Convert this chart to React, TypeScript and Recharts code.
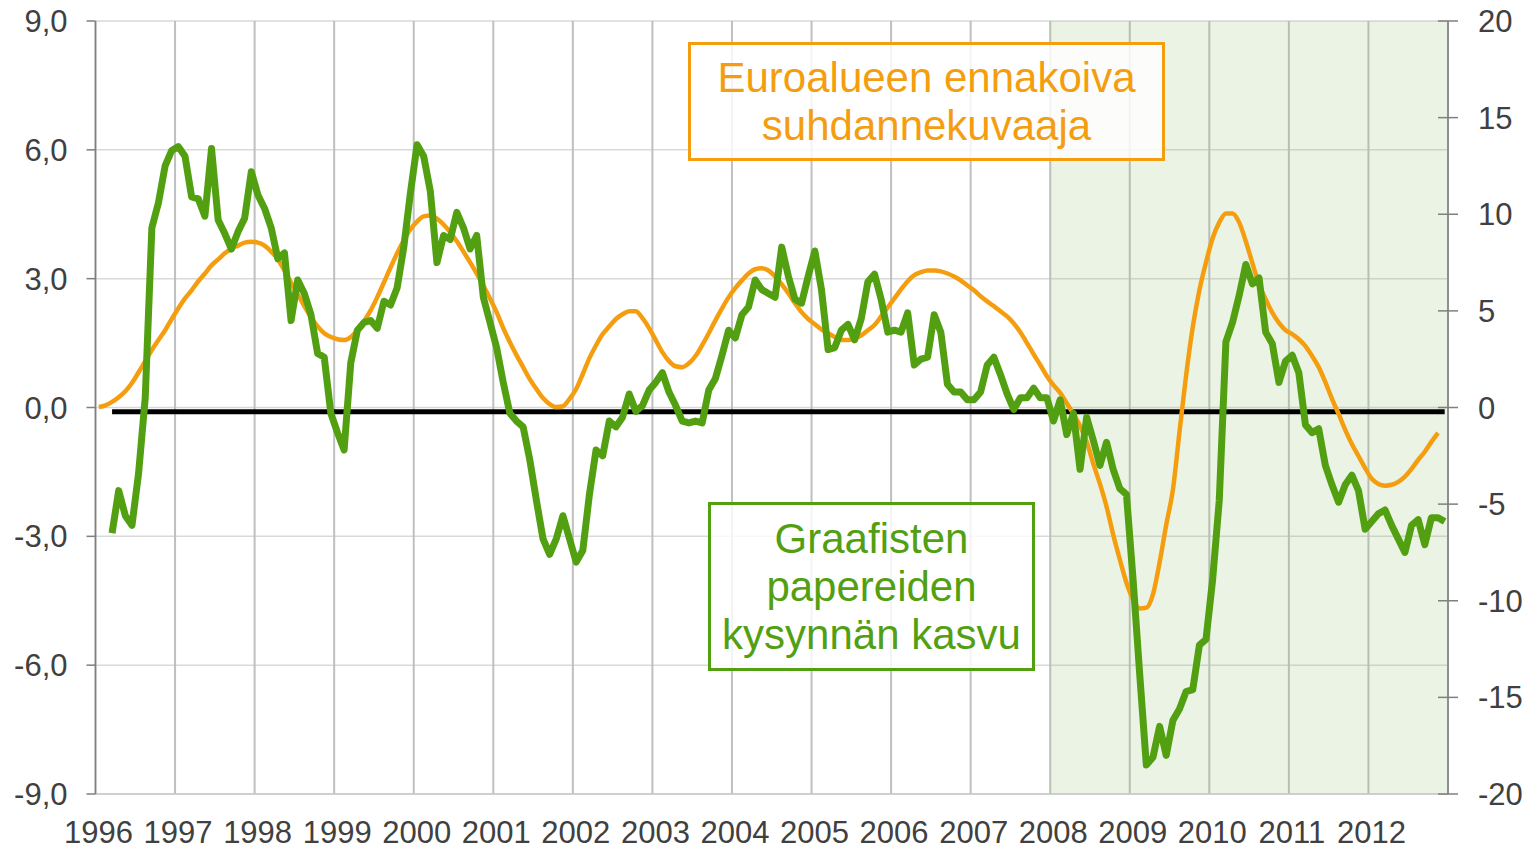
import React from 'react';
import { ComposedChart, Line, XAxis, YAxis, CartesianGrid, ReferenceArea } from 'recharts';

// Euroalueen ennakoiva suhdannekuvaaja (vasen akseli), kuukausittain 1996-2012
const orange1996 = [0.01, 0.05, 0.13, 0.24, 0.38, 0.57, 0.82, 1.08, 1.34, 1.57, 1.8, 2.06];
const orange1997 = [2.31, 2.54, 2.73, 2.94, 3.12, 3.31, 3.45, 3.59, 3.7, 3.77, 3.84, 3.86];
const orange1998 = [3.84, 3.77, 3.63, 3.45, 3.19, 2.91, 2.64, 2.36, 2.1, 1.89, 1.73, 1.64];
const orange1999 = [1.59, 1.57, 1.64, 1.8, 2.01, 2.26, 2.57, 2.91, 3.26, 3.59, 3.89, 4.15];
const orange2000 = [4.33, 4.45, 4.47, 4.4, 4.26, 4.08, 3.87, 3.63, 3.38, 3.12, 2.84, 2.54];
const orange2001 = [2.22, 1.85, 1.52, 1.22, 0.94, 0.66, 0.43, 0.22, 0.08, 0.01, 0.03, 0.2];
const orange2002 = [0.43, 0.78, 1.15, 1.45, 1.71, 1.89, 2.06, 2.17, 2.24, 2.24, 2.08, 1.85];
const orange2003 = [1.57, 1.29, 1.08, 0.96, 0.94, 1.03, 1.2, 1.45, 1.73, 2.03, 2.31, 2.57];
const orange2004 = [2.78, 2.96, 3.12, 3.22, 3.24, 3.19, 3.05, 2.87, 2.66, 2.43, 2.22, 2.06];
const orange2005 = [1.94, 1.82, 1.73, 1.64, 1.57, 1.57, 1.61, 1.68, 1.8, 1.92, 2.12, 2.33];
const orange2006 = [2.54, 2.75, 2.94, 3.08, 3.15, 3.19, 3.19, 3.17, 3.12, 3.05, 2.96, 2.84];
const orange2007 = [2.73, 2.59, 2.47, 2.36, 2.24, 2.12, 1.96, 1.75, 1.5, 1.24, 0.99, 0.73];
const orange2008 = [0.52, 0.34, 0.1, -0.15, -0.43, -0.8, -1.31, -1.78, -2.31, -2.96, -3.54, -4.08];
const orange2009 = [-4.47, -4.68, -4.66, -4.35, -3.61, -2.73, -1.92, -0.57, 0.75, 1.87, 2.73, 3.38];
const orange2010 = [3.94, 4.31, 4.52, 4.52, 4.31, 3.87, 3.36, 2.87, 2.52, 2.21, 1.97, 1.8];
const orange2011 = [1.71, 1.59, 1.43, 1.2, 0.94, 0.59, 0.2, -0.15, -0.52, -0.85, -1.13, -1.41];
const orange2012 = [-1.66, -1.78, -1.82, -1.8, -1.73, -1.61, -1.43, -1.22, -1.03, -0.8, -0.59, null];

// Graafisten papereiden kysynnän kasvu, % (oikea akseli)
const green1996 = [null, null, -6.5, -4.3, -5.6, -6.1, -3.4, 0.5, 9.3, 10.6, 12.5, 13.3];
const green1997 = [13.5, 13.0, 10.9, 10.8, 9.9, 13.4, 9.7, 9.0, 8.2, 9.1, 9.8, 12.2];
const green1998 = [11.0, 10.3, 9.3, 7.7, 8.0, 4.5, 6.6, 5.9, 4.8, 2.8, 2.6, -0.3];
const green1999 = [-1.3, -2.2, 2.3, 4.0, 4.4, 4.5, 4.1, 5.5, 5.3, 6.2, 8.3, 11.1];
const green2000 = [13.6, 13.0, 11.2, 7.5, 8.9, 8.7, 10.1, 9.3, 8.2, 8.9, 5.7, 4.4];
const green2001 = [3.1, 1.3, -0.3, -0.7, -1.0, -2.7, -4.8, -6.8, -7.6, -6.8, -5.6, -6.8];
const green2002 = [-8.0, -7.4, -4.5, -2.2, -2.5, -0.7, -1.0, -0.5, 0.7, -0.2, 0.1, 0.9];
const green2003 = [1.3, 1.8, 0.8, 0.1, -0.7, -0.8, -0.7, -0.8, 0.9, 1.5, 2.7, 4.0];
const green2004 = [3.6, 4.8, 5.2, 6.6, 6.1, 5.9, 5.7, 8.3, 6.8, 5.6, 5.4, 6.8];
const green2005 = [8.1, 6.1, 3.0, 3.1, 4.0, 4.3, 3.5, 4.6, 6.5, 6.9, 5.6, 3.9];
const green2006 = [4.0, 3.9, 4.9, 2.2, 2.5, 2.6, 4.8, 3.9, 1.2, 0.8, 0.8, 0.4];
const green2007 = [0.4, 0.8, 2.2, 2.6, 1.7, 0.7, -0.1, 0.5, 0.5, 1.0, 0.5, 0.5];
const green2008 = [-0.7, 0.4, -1.4, -0.3, -3.2, -0.5, -1.7, -3.0, -1.8, -3.2, -4.2, -4.5];
const green2009 = [-8.9, -13.8, -18.5, -18.1, -16.5, -18.0, -16.2, -15.6, -14.7, -14.6, -12.3, -12.0];
const green2010 = [-8.9, -4.8, 3.4, 4.4, 5.8, 7.4, 6.4, 6.7, 3.9, 3.3, 1.3, 2.4];
const green2011 = [2.7, 1.8, -0.9, -1.3, -1.1, -3.0, -4.0, -4.9, -4.0, -3.5, -4.3, -6.3];
const green2012 = [-5.9, -5.5, -5.3, -6.1, -6.8, -7.5, -6.1, -5.8, -7.1, -5.7, -5.7, -5.9];

const years = [1996, 1997, 1998, 1999, 2000, 2001, 2002, 2003, 2004, 2005, 2006, 2007, 2008, 2009, 2010, 2011, 2012];
const leftTicks = [-9, -6, -3, 0, 3, 6, 9];
const rightTicks = [-20, -15, -10, -5, 0, 5, 10, 15, 20];
const zeroLevel = -0.1;
const recessionStart = 2008;

const orangeByYear = [orange1996, orange1997, orange1998, orange1999, orange2000, orange2001, orange2002, orange2003,
  orange2004, orange2005, orange2006, orange2007, orange2008, orange2009, orange2010, orange2011, orange2012];
const greenByYear = [green1996, green1997, green1998, green1999, green2000, green2001, green2002, green2003,
  green2004, green2005, green2006, green2007, green2008, green2009, green2010, green2011, green2012];

const data = years.flatMap((year, y) =>
  orangeByYear[y].map((o, m) => {
    const g = greenByYear[y][m];
    return {
      t: y * 12 + m + 0.5,
      ennakoiva: o,
      kysynta: g,
      nolla: g == null ? null : zeroLevel,
    };
  })
);

const ORANGE = '#F49E0F';
const GREEN = '#52A012';
const TEXT = '#404040';
const AXIS = '#7F7F7F';
const FONT = '"Liberation Sans", Arial, sans-serif';
const TICK_SIZE = 31;

const monthTicks = years.map((_, i) => i * 12);

function RightTick(props: any) {
  const { x, y, payload } = props;
  return (
    <g>
      <line x1={x - 40} x2={x - 30} y1={y} y2={y} stroke={AXIS} strokeWidth={1.5} />
      <text x={x} y={y} dy="0.355em" textAnchor="start" fill={TEXT} fontSize={TICK_SIZE} fontFamily={FONT}>
        {payload.value}
      </text>
    </g>
  );
}

const boxBase: React.CSSProperties = {
  position: 'absolute',
  boxSizing: 'border-box',
  background: 'rgba(255,255,255,0.82)',
  display: 'flex',
  flexDirection: 'column',
  justifyContent: 'center',
  alignItems: 'center',
  fontSize: 42,
  lineHeight: '48px',
  fontFamily: FONT,
  whiteSpace: 'nowrap',
};

export default function App() {
  return (
    <div style={{ position: 'absolute', left: 0, top: 0, width: 1532, height: 849, background: '#fff', fontFamily: FONT }}>
      <ComposedChart width={1532} height={849} data={data} margin={{ top: 21, right: 0, bottom: 0, left: 0 }}>
        <ReferenceArea
          x1={(recessionStart - 1996) * 12}
          x2={204}
          yAxisId="left"
          fill="#9BC878"
          fillOpacity={0.2}
          stroke="none"
        />
        <CartesianGrid horizontal={true} vertical={false} yAxisId="left" stroke="#D9D9D9" strokeWidth={1.5} />
        <CartesianGrid horizontal={false} vertical={true} yAxisId="left" stroke="#BFBFBF" strokeWidth={2} />
        <XAxis
          dataKey="t"
          type="number"
          domain={[0, 204]}
          ticks={monthTicks}
          tickFormatter={(v: number) => String(1996 + v / 12)}
          interval={0}
          height={55}
          tickLine={false}
          tickSize={0}
          tickMargin={27}
          axisLine={{ stroke: '#C8C8C8', strokeWidth: 1.5 }}
          tick={{ fill: TEXT, fontSize: TICK_SIZE, fontFamily: FONT, dx: 3 }}
        />
        <YAxis
          yAxisId="left"
          orientation="left"
          domain={[-9, 9]}
          ticks={leftTicks}
          interval={0}
          width={95.5}
          tickSize={9}
          tickMargin={19}
          tickFormatter={(v: number) => v.toFixed(1).replace('.', ',')}
          axisLine={{ stroke: AXIS, strokeWidth: 1.5 }}
          tickLine={{ stroke: AXIS, strokeWidth: 1.5 }}
          tick={{ fill: TEXT, fontSize: TICK_SIZE, fontFamily: FONT }}
        />
        <YAxis
          yAxisId="right"
          orientation="right"
          domain={[-20, 20]}
          ticks={rightTicks}
          interval={0}
          width={84}
          tickSize={10}
          tickMargin={20}
          axisLine={{ stroke: AXIS, strokeWidth: 1.5 }}
          tickLine={{ stroke: AXIS, strokeWidth: 1.5 }}
          tick={<RightTick />}
        />
        <Line
          yAxisId="left"
          dataKey="nolla"
          stroke="#000"
          strokeWidth={5}
          dot={false}
          activeDot={false}
          type="linear"
          isAnimationActive={false}
        />
        <Line
          yAxisId="left"
          dataKey="ennakoiva"
          stroke={ORANGE}
          strokeWidth={4.5}
          dot={false}
          activeDot={false}
          type="monotone"
          strokeLinejoin="round"
          isAnimationActive={false}
        />
        <Line
          yAxisId="right"
          dataKey="kysynta"
          stroke={GREEN}
          strokeWidth={7}
          dot={false}
          activeDot={false}
          type="linear"
          strokeLinejoin="round"
          isAnimationActive={false}
        />
      </ComposedChart>

      <div style={{ ...boxBase, left: 688, top: 42, width: 477, height: 119, border: `3.5px solid ${ORANGE}`, color: ORANGE }}>
        <div>Euroalueen ennakoiva</div>
        <div>suhdannekuvaaja</div>
      </div>
      <div style={{ ...boxBase, left: 708, top: 502, width: 327, height: 169, border: `3.5px solid ${GREEN}`, color: GREEN }}>
        <div>Graafisten</div>
        <div>papereiden</div>
        <div>kysynnän kasvu</div>
      </div>
    </div>
  );
}
